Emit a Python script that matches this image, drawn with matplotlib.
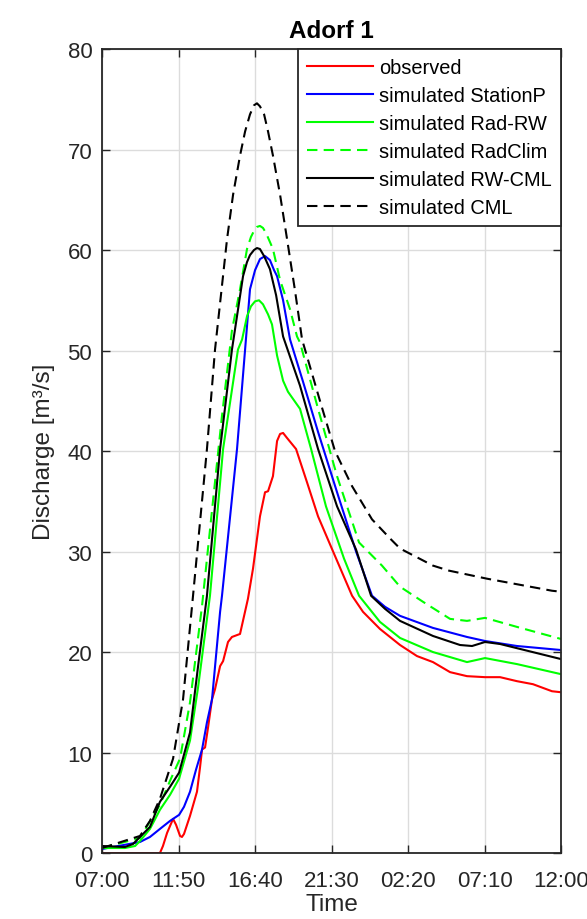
import matplotlib
matplotlib.use("Agg")
import matplotlib.pyplot as plt

plt.rcParams["font.family"] = ["Liberation Sans", "DejaVu Sans"]

# ===== Data (hours after 07:00, discharge m3/s) =====
t_obs = [0, 3.66, 3.85, 4.11, 4.49, 4.68, 4.93, 5.05, 5.18, 5.56, 6.00, 6.19,
         6.32, 6.51, 6.70, 6.95, 7.14, 7.46, 7.65, 7.96, 8.21, 8.72, 9.22,
         9.54, 9.98, 10.30, 10.49, 10.80, 11.06, 11.25, 11.44, 11.69, 12.26,
         12.95, 13.65, 14.60, 15.80, 16.49, 17.56, 18.83, 19.90, 20.91,
         21.99, 23.06, 24.20, 25.15, 26.22, 27.23, 28.43, 29.0]
q_obs = [0, 0, 0.7, 2.0, 3.4, 2.8, 1.7, 1.6, 1.9, 3.7, 6.1, 8.5, 10.3, 10.5,
         12.5, 15.3, 16.3, 18.6, 19.1, 21.0, 21.5, 21.8, 25.3, 28.3, 33.5,
         35.9, 36.0, 37.5, 41.0, 41.7, 41.8, 41.3, 40.2, 36.9, 33.5, 30.0,
         25.6, 24.0, 22.3, 20.7, 19.6, 19.0, 18.0, 17.6, 17.5, 17.5, 17.1,
         16.8, 16.1, 16.0]

t_station = [0, 2.40, 3.03, 3.66, 4.30, 4.87, 5.18, 5.56, 5.94, 6.32, 6.63,
             6.95, 7.46, 7.58, 8.53, 9.04, 9.35, 9.67, 9.98, 10.30, 10.61,
             10.87, 11.06, 11.44, 11.88, 12.70, 13.65, 14.85, 16.05, 17.06,
             17.88, 18.83, 20.91, 23.06, 24.20, 26.22, 29.0]
q_station = [0.4, 1.1, 1.6, 2.4, 3.2, 3.8, 4.6, 6.1, 8.3, 10.3, 13.0, 15.3,
             24.0, 25.6, 40.2, 50.1, 56.1, 58.0, 59.1, 59.4, 59.0, 58.0,
             57.4, 55.0, 51.1, 46.9, 41.9, 35.9, 30.0, 25.6, 24.5, 23.6,
             22.4, 21.5, 21.1, 20.6, 20.2]

t_radrw = [0, 1.45, 2.09, 2.40, 3.03, 3.66, 4.30, 4.87, 5.56, 6.07, 6.82,
           7.65, 8.59, 8.85, 9.16, 9.41, 9.67, 9.92, 10.17, 10.49, 10.74,
           11.06, 11.44, 11.75, 12.51, 13.21, 14.15, 15.29, 16.24, 17.56,
           18.83, 20.91, 23.06, 24.20, 26.22, 29.0]
q_radrw = [0.5, 0.5, 0.7, 1.2, 2.4, 4.3, 5.8, 7.4, 11.2, 16.5, 25.6, 40.2,
           50.1, 51.1, 53.4, 54.4, 54.9, 55.0, 54.6, 53.6, 52.6, 49.5, 47.0,
           45.9, 44.2, 40.2, 34.5, 29.3, 25.6, 23.0, 21.4, 20.0, 19.0, 19.4,
           18.8, 17.8]

t_radclim = [0, 2.40, 3.66, 4.30, 4.93, 5.56, 6.32, 7.01, 7.58, 8.21, 8.72,
             9.16, 9.41, 9.60, 9.79, 9.98, 10.17, 10.36, 10.61, 10.80, 11.25,
             11.88, 12.32, 12.51, 13.65, 14.85, 16.24, 17.69, 18.83, 20.28,
             21.99, 23.06, 24.20, 26.22, 29.0]
q_radclim = [0.5, 1.5, 4.8, 7.2, 9.4, 15.0, 24.6, 35.0, 43.5, 52.0, 56.1,
             60.1, 61.3, 61.9, 62.3, 62.4, 62.2, 61.7, 60.8, 60.1, 57.0,
             54.1, 51.4, 50.8, 44.2, 37.5, 30.9, 28.6, 26.5, 25.0, 23.3,
             23.1, 23.4, 22.5, 21.3]

t_rwcml = [0, 1.45, 1.96, 2.40, 3.03, 3.66, 4.30, 4.87, 5.56, 6.07, 6.63,
           7.46, 8.21, 8.91, 9.16, 9.35, 9.60, 9.79, 9.98, 10.24, 10.61,
           11.00, 11.44, 12.51, 13.65, 14.85, 16.05, 17.00, 17.88, 18.83,
           20.91, 22.62, 23.38, 24.20, 25.15, 29.0]
q_rwcml = [0.7, 0.6, 0.9, 1.6, 2.6, 5.1, 6.6, 8.0, 12.0, 18.6, 25.6, 40.2,
           50.1, 57.4, 58.8, 59.5, 60.0, 60.2, 60.1, 59.4, 58.1, 55.5, 51.4,
           46.5, 40.2, 34.5, 30.2, 25.6, 24.3, 23.1, 21.6, 20.7, 20.6, 21.0,
           20.8, 19.3]

t_cml = [0, 2.40, 3.03, 3.66, 4.49, 5.12, 5.75, 6.63, 7.14, 7.90, 8.28, 8.72,
         9.04, 9.35, 9.60, 9.79, 9.98, 10.24, 10.49, 10.80, 11.25, 11.69,
         12.19, 12.64, 13.77, 14.72, 15.80, 17.06, 18.20, 18.83, 20.91,
         21.92, 24.32, 28.43, 29.0]
q_cml = [0.5, 1.7, 3.2, 5.4, 9.4, 15.3, 25.6, 40.2, 50.1, 61.1, 65.5, 69.4,
         71.8, 73.5, 74.4, 74.6, 74.3, 73.5, 71.8, 69.4, 65.5, 61.1, 56.0,
         51.1, 45.0, 40.0, 36.5, 33.2, 31.3, 30.3, 28.6, 28.1, 27.3, 26.1,
         26.0]

x_ticks = [0, 29 / 6, 2 * 29 / 6, 3 * 29 / 6, 4 * 29 / 6, 5 * 29 / 6, 29]
x_ticklabels = ["07:00", "11:50", "16:40", "21:30", "02:20", "07:10", "12:00"]
y_ticks = [0, 10, 20, 30, 40, 50, 60, 70, 80]

# ===== Figure =====
fig = plt.figure(figsize=(5.87, 9.2), dpi=100)
ax = fig.add_axes([0.1738, 0.0717, 0.7819, 0.8739])

lw = 1.5
dash = (5, 3)
ax.plot(t_obs, q_obs, color="#FF0000", lw=lw, label="observed")
ax.plot(t_station, q_station, color="#0000FF", lw=lw, label="simulated StationP")
ax.plot(t_radrw, q_radrw, color="#00FF00", lw=lw, label="simulated Rad-RW")
ax.plot(t_radclim, q_radclim, color="#00FF00", lw=lw, ls="--", dashes=dash,
        label="simulated RadClim")
ax.plot(t_rwcml, q_rwcml, color="black", lw=lw, label="simulated RW-CML")
ax.plot(t_cml, q_cml, color="black", lw=lw, ls="--", dashes=dash,
        label="simulated CML")

ax.set_xlim(0, 29)
ax.set_ylim(0, 80)
ax.set_xticks(x_ticks)
ax.set_xticklabels(x_ticklabels)
ax.set_yticks(y_ticks)

ax.grid(True, color="#dcdcdc", lw=1.0)
ax.set_axisbelow(True)
for s in ax.spines.values():
    s.set_color("#262626")
    s.set_linewidth(1.3)
ax.tick_params(direction="in", length=6, width=1.0, colors="#262626",
               labelsize=16, top=True, right=True)
ax.tick_params(axis="x", pad=12)
ax.tick_params(axis="y", pad=7)
for lab in ax.get_xticklabels() + ax.get_yticklabels():
    lab.set_color("#262626")

ax.set_xlabel("Time", fontsize=17.5, color="#262626", labelpad=2)
ax.set_ylabel("Discharge [m³/s]", fontsize=17.5, color="#262626", labelpad=9)
ax.set_title("Adorf 1", fontsize=17.5, fontweight="bold", pad=9)

leg = ax.legend(loc="upper right", fontsize=14.4, frameon=True, fancybox=False,
                borderaxespad=0, handlelength=3.3, handletextpad=0.3,
                labelspacing=0.45, borderpad=0.45)
leg.get_frame().set_edgecolor("#262626")
leg.get_frame().set_linewidth(1.3)
leg.get_frame().set_alpha(1)

fig.savefig("out.png", dpi=100)
